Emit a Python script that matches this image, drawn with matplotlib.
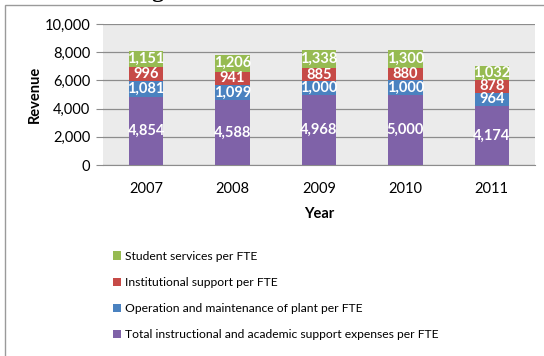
import matplotlib.pyplot as plt
import numpy as np
from matplotlib.patches import Rectangle

years = ['2007', '2008', '2009', '2010', '2011']
instructional = [4854, 4588, 4968, 5000, 4174]
operation = [1081, 1099, 1000, 1000, 964]
institutional = [996, 941, 885, 880, 878]
student = [1151, 1206, 1338, 1300, 1032]

series = [
    ('Total instructional and academic support expenses per FTE', instructional, '#7f62a8'),
    ('Operation and maintenance of plant per FTE', operation, '#4a82c0'),
    ('Institutional support per FTE', institutional, '#c64a47'),
    ('Student services per FTE', student, '#97bb52'),
]

plt.rcParams['font.family'] = ['Lato', 'DejaVu Sans']

fig = plt.figure(figsize=(5.44, 3.56), dpi=100)
fig.patch.set_facecolor('white')
ax = fig.add_axes([103 / 544, 1 - 165 / 356, 432 / 544, 141 / 356])
ax.set_facecolor('#ebebeb')

# outer chart border
fig.patches.append(Rectangle((5 / 544, -0.1), 1.2, 1 - 5 / 356 + 0.1, transform=fig.transFigure,
                             fill=False, edgecolor='#9a9a9a', linewidth=1.0))

# title, mostly cut off by the top edge
fig.text(160 / 544, 1 + 3 / 356, 'Categories', family='Liberation Serif', fontweight='bold',
         fontsize=17, ha='center', va='baseline')

x = np.arange(len(years))
bottom = np.zeros(len(years))
handles = []
for name, vals, color in series:
    vals = np.array(vals)
    b = ax.bar(x, vals, 0.4, bottom=bottom, color=color, edgecolor='none', label=name, zorder=3)
    handles.append(b)
    for xi, v, b0 in zip(x, vals, bottom):
        ax.text(xi, b0 + v / 2, f'{v:,}', ha='center', va='center', color='white',
                fontweight='bold', fontsize=10.5, zorder=4)
    bottom += vals

ax.set_xlim(-0.5, 4.5)
ax.set_ylim(0, 10000)
ax.set_yticks(np.arange(0, 10001, 2000))
ax.set_yticklabels([f'{v:,}' for v in range(0, 10001, 2000)])
ax.grid(axis='y', color='#8c8c8c', linewidth=0.9, zorder=1)
ax.set_axisbelow(True)
ax.set_xticks(x)
ax.set_xticklabels(years)
ax.tick_params(axis='y', length=5, color='#8c8c8c', labelsize=10.5, pad=4)
ax.tick_params(axis='x', length=0, labelsize=10.5, pad=12)
for s in ['top', 'right', 'left']:
    ax.spines[s].set_visible(False)
ax.spines['bottom'].set_color('#8c8c8c')

ax.set_ylabel('Revenue', fontweight='bold', fontsize=10.5, labelpad=2)
ax.set_xlabel('Year', fontweight='bold', fontsize=10.5, labelpad=8)

leg = fig.legend(handles[::-1], [s[0] for s in series][::-1], loc='upper left',
                 bbox_to_anchor=(108 / 544, 1 - 246 / 356), frameon=False, fontsize=8.7,
                 handlelength=0.68, handleheight=0.68, handletextpad=0.3, labelspacing=1.25,
                 borderaxespad=0)

fig.savefig('out.png', dpi=100)
